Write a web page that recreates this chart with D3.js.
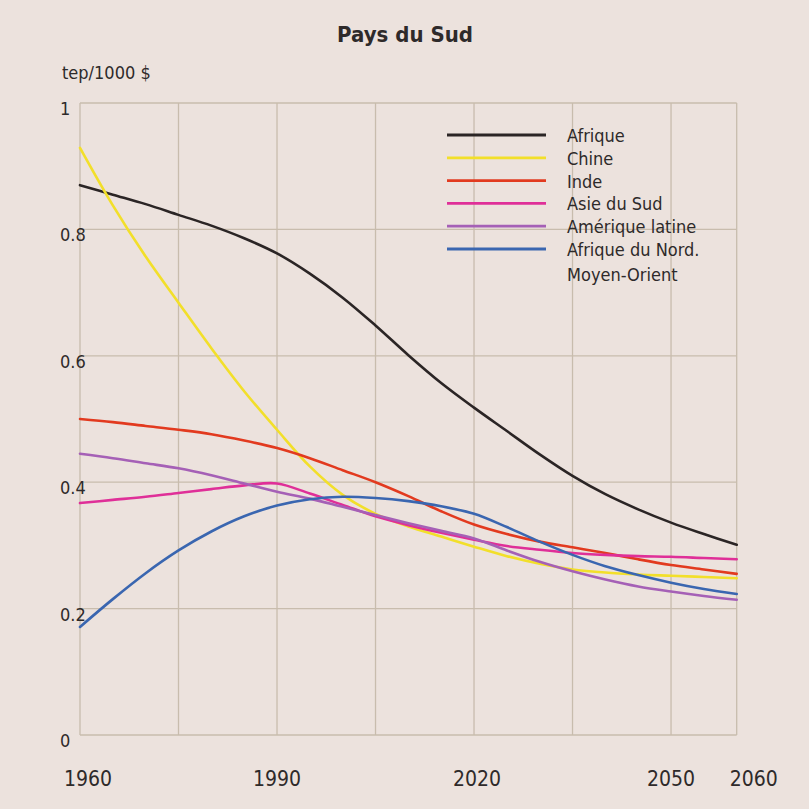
<!DOCTYPE html>
<html>
<head>
<meta charset="utf-8">
<script src="https://cdn.jsdelivr.net/npm/d3@7"></script>
<style>
  html, body { margin: 0; padding: 0; background: #ece2dd; }
  svg { display: block; }
  text { font-family: "DejaVu Sans Condensed", "DejaVu Sans", sans-serif; fill: #2e2a2a; }
</style>
</head>
<body>
<svg id="chart" width="809" height="809"></svg>
<script>
// ---- data ----
const title = "Pays du Sud";
const unitLabel = "tep/1000 $";
const years = [1960,1965,1970,1975,1980,1985,1990,1995,2000,2005,2010,2015,2020,2025,2030,2035,2040,2045,2050,2055,2060];
const seriesNames = ["Afrique","Chine","Inde","Asie du Sud","Amérique latine","Afrique du Nord. Moyen-Orient"];
const afrique   = [.870,.855,.840,.823,.806,.786,.762,.730,.692,.648,.601,.557,.518,.481,.444,.410,.381,.357,.336,.318,.301];
const chine     = [.929,.838,.757,.684,.612,.544,.483,.425,.380,.350,.330,.314,.298,.283,.271,.262,.257,.254,.252,.250,.248];
const inde      = [.500,.495,.489,.483,.476,.466,.454,.438,.419,.400,.378,.354,.333,.318,.306,.297,.288,.278,.269,.262,.255];
const asieSud   = [.367,.372,.377,.383,.389,.395,.398,.382,.364,.346,.332,.320,.309,.299,.293,.288,.285,.283,.282,.280,.278];
const ameriqueL = [.445,.438,.430,.422,.411,.398,.385,.374,.361,.348,.335,.323,.311,.292,.274,.259,.246,.235,.227,.220,.214];
const afNordMO  = [.171,.215,.256,.292,.322,.346,.363,.373,.377,.375,.370,.362,.350,.329,.306,.285,.267,.253,.241,.231,.223];
const seriesValues = [afrique, chine, inde, asieSud, ameriqueL, afNordMO];
const colors = ["#2b2525","#f2df2a","#e23a1f","#df2f98","#a560b6","#3a66b0"];
const xTickLabels = [1960, 1990, 2020, 2050, 2060];
const xGridYears = [1960,1975,1990,2005,2020,2035,2050,2060];
const yTicks = [0, 0.2, 0.4, 0.6, 0.8, 1];
const yTickLabels = ["0","0.2","0.4","0.6","0.8","1"];

// ---- layout ----
const svg = d3.select("#chart");
const plotLeft = 80, plotRight = 736.7, plotTop = 103, plotBottom = 735;
const x = d3.scaleLinear().domain([1960, 2060]).range([plotLeft, plotRight]);
const y = d3.scaleLinear().domain([0, 1]).range([plotBottom, plotTop]);
const gridColor = "#c8bcad";

svg.append("rect").attr("width", 809).attr("height", 809).attr("fill", "#ece2dd");

// grid
const g = svg.append("g");
g.selectAll(".vg").data(xGridYears).enter().append("line")
  .attr("x1", d => x(d)).attr("x2", d => x(d)).attr("y1", plotTop).attr("y2", plotBottom)
  .attr("stroke", gridColor).attr("stroke-width", 1.3);
g.selectAll(".hg").data(yTicks).enter().append("line")
  .attr("x1", plotLeft).attr("x2", plotRight).attr("y1", d => y(d)).attr("y2", d => y(d))
  .attr("stroke", gridColor).attr("stroke-width", 1.3);

// y labels
svg.selectAll(".yl").data(yTicks).enter().append("text")
  .attr("x", 60).attr("y", d => y(d) + 12)
  .attr("font-size", 18)
  .text((d, i) => yTickLabels[i]);

// x labels
const xLabelOffset = {1960: 8, 2060: 17, 2020: 3};
svg.selectAll(".xl").data(xTickLabels).enter().append("text")
  .attr("x", d => x(d) + (xLabelOffset[d] || 0)).attr("y", 786)
  .attr("text-anchor", "middle").attr("font-size", 21)
  .text(d => d);

// title and unit
svg.append("text").attr("x", 405).attr("y", 42).attr("text-anchor", "middle")
  .attr("font-size", 22).attr("font-weight", "bold").attr("fill", "#333")
  .text(title);
svg.append("text").attr("x", 62).attr("y", 79).attr("font-size", 18).text(unitLabel);

// lines
const line = d3.line().x((d, i) => x(years[i])).y(d => y(d)).curve(d3.curveCatmullRom.alpha(0.5));
const drawOrder = [0, 1, 2, 3, 4, 5];
svg.selectAll(".series").data(drawOrder).enter().append("path")
  .attr("d", i => line(seriesValues[i]))
  .attr("fill", "none").attr("stroke", i => colors[i])
  .attr("stroke-width", 2.6).attr("stroke-linecap", "round");

// legend
const lg = svg.append("g");
const legY0 = 135, legStep = 22.8;
seriesNames.forEach((name, i) => {
  const ly = legY0 + i * legStep;
  lg.append("line").attr("x1", 447).attr("x2", 546).attr("y1", ly).attr("y2", ly)
    .attr("stroke", colors[i]).attr("stroke-width", 2.8);
  const parts = name.split(". ");
  lg.append("text").attr("x", 567).attr("y", ly + 7).attr("font-size", 18)
    .text(parts.length > 1 ? parts[0] + "." : name);
  if (parts.length > 1) {
    lg.append("text").attr("x", 567).attr("y", ly + 32).attr("font-size", 18).text(parts[1]);
  }
});
</script>
</body>
</html>
